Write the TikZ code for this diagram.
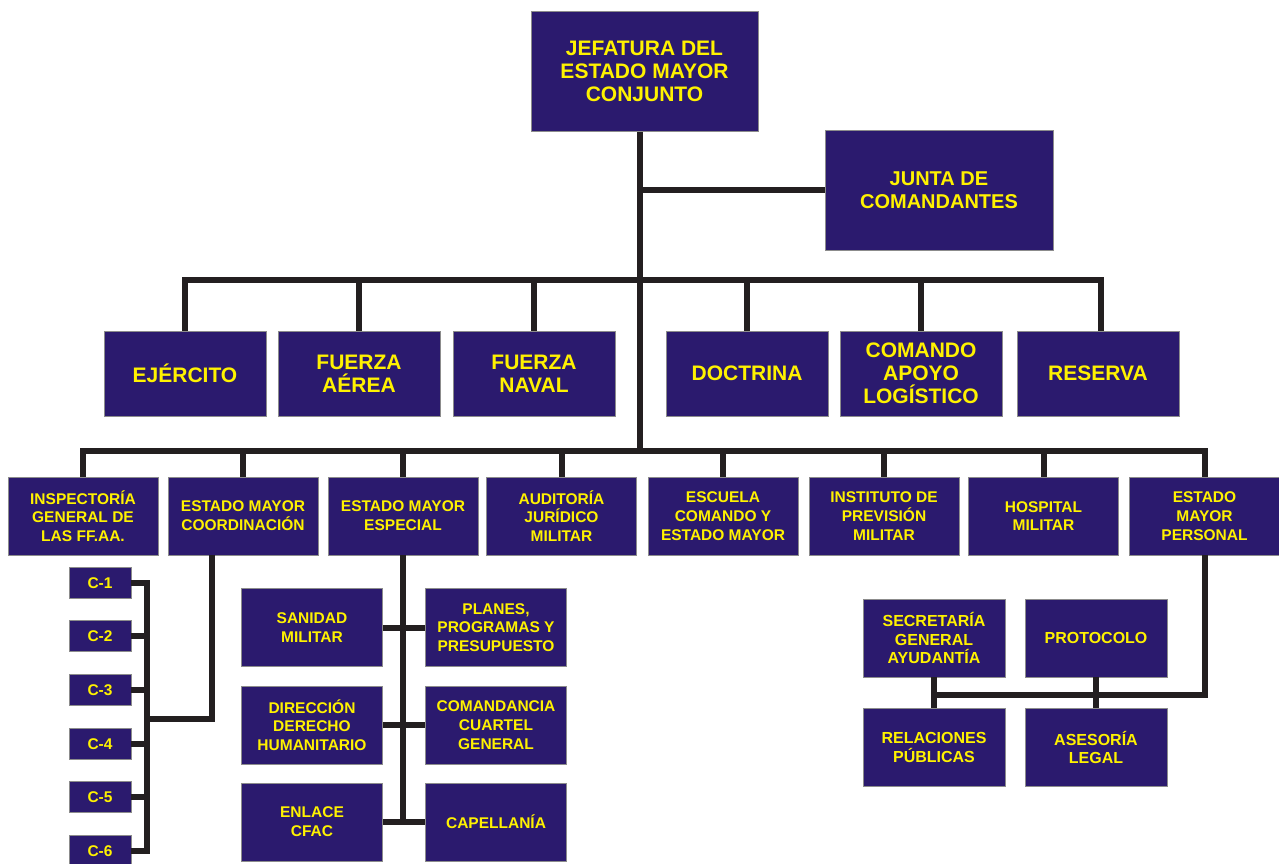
\documentclass[tikz,border=0pt]{standalone}
\usepackage{fontspec}
\setmainfont{Liberation Sans}
\definecolor{boxfill}{HTML}{2B1A6E}
\definecolor{labelyellow}{HTML}{FFF200}
\definecolor{linecol}{HTML}{231F20}
\definecolor{boxedge}{HTML}{8C8C8C}
\tikzset{
  box/.style={draw=boxedge, line width=0.9pt, fill=boxfill, text=labelyellow, align=center, inner sep=0pt},
  sz/.style 2 args={minimum width=#1pt, minimum height=#2pt},
  fbig/.style={font=\fontsize{21}{23}\selectfont\bfseries},
  fjunta/.style={font=\fontsize{20}{23}\selectfont\bfseries},
  frow/.style={font=\fontsize{21}{23}\selectfont\bfseries},
  fsmall/.style={font=\fontsize{15.5}{18.8}\selectfont\bfseries},
  fright/.style={font=\fontsize{16}{18.8}\selectfont\bfseries},
  rowone/.style={box, frow, sz={162}{85}},
  rowtwo/.style={box, fsmall, sz={150}{78}},
  cbox/.style={box, fsmall, sz={62}{31}},
  subbox/.style={box, fsmall, sz={141}{78}},
  rbox/.style={box, fright, sz={142}{78}},
  link/.style={draw=linecol, line width=6pt, line join=miter}
}
\begin{document}
\begin{tikzpicture}[x=1pt, y=-1pt]
\useasboundingbox (0,0) rectangle (1279,863);
\clip (0,0) rectangle (1279,863);
% top
\node[box, fbig, sz={227}{120}] (jefe) at (644.5,71.5) {JEFATURA DEL\\ESTADO MAYOR\\CONJUNTO};
\node[box, fjunta, sz={228}{120}] (junta) at (939,190) {JUNTA DE\\COMANDANTES};
% row 1
\node[rowone] (ejercito) at (185,373.5) {EJÉRCITO};
\node[rowone] (aerea) at (359,373.5) {FUERZA\\AÉREA};
\node[rowone] (naval) at (534,373.5) {FUERZA\\NAVAL};
\node[rowone] (doctrina) at (747,373.5) {DOCTRINA};
\node[rowone] (comando) at (921,373.5) {COMANDO\\APOYO\\LOGÍSTICO};
\node[rowone] (reserva) at (1098,373.5) {RESERVA};
% row 2
\node[rowtwo] (insp) at (83,516) {INSPECTORÍA\\GENERAL DE\\LAS FF.AA.};
\node[rowtwo] (coord) at (243,516) {ESTADO MAYOR\\COORDINACIÓN};
\node[rowtwo] (especial) at (403,516) {ESTADO MAYOR\\ESPECIAL};
\node[rowtwo] (auditoria) at (561.5,516) {AUDITORÍA\\JURÍDICO\\MILITAR};
\node[rowtwo] (escuela) at (723,516) {ESCUELA\\COMANDO Y\\ESTADO MAYOR};
\node[rowtwo] (instituto) at (884,516) {INSTITUTO DE\\PREVISIÓN\\MILITAR};
\node[rowtwo] (hospital) at (1043.5,516) {HOSPITAL\\MILITAR};
\node[rowtwo] (personal) at (1204.5,516) {ESTADO\\MAYOR\\PERSONAL};
% C boxes
\node[cbox] (c1) at (100,583) {C-1};
\node[cbox] (c2) at (100,636) {C-2};
\node[cbox] (c3) at (100,690) {C-3};
\node[cbox] (c4) at (100,744) {C-4};
\node[cbox] (c5) at (100,797) {C-5};
\node[cbox] (c6) at (100,851) {C-6};
% especial subtree
\node[subbox] (sanidad) at (312,627.5) {SANIDAD\\MILITAR};
\node[subbox] (direccion) at (312,725) {DIRECCIÓN\\DERECHO\\HUMANITARIO};
\node[subbox] (enlace) at (312,822) {ENLACE\\CFAC};
\node[subbox] (planes) at (496,627.5) {PLANES,\\PROGRAMAS Y\\PRESUPUESTO};
\node[subbox] (comandancia) at (496,725) {COMANDANCIA\\CUARTEL\\GENERAL};
\node[subbox] (capellania) at (496,822) {CAPELLANÍA};
% personal subtree
\node[rbox] (secretaria) at (934,638) {SECRETARÍA\\GENERAL\\AYUDANTÍA};
\node[rbox] (protocolo) at (1096,638) {PROTOCOLO};
\node[rbox] (relaciones) at (934,747.5) {RELACIONES\\PÚBLICAS};
\node[rbox] (asesoria) at (1096,747.5) {ASESORÍA\\LEGAL};
% coordinates
\coordinate (t1) at (640,280);
\coordinate (t2) at (640,451);
\coordinate (cb) at (147,719);
\coordinate (pj) at (0,695);
% connectors
\draw[link] (jefe.south -| t1) -- (t2);
\draw[link] (t1 |- junta.west) -- (junta.west);
\draw[link] (ejercito.north) |- (t1) -| ([xshift=3pt]reserva.north);
\foreach \n in {aerea,naval,doctrina,comando} \draw[link] (\n.north) -- (\n.north |- t1);
\draw[link] (insp.north) |- (t2) -| (personal.north);
\foreach \n in {coord,especial,auditoria,escuela,instituto,hospital} \draw[link] (\n.north) -- (\n.north |- t2);
\draw[link] ([xshift=-31pt]coord.south) |- (cb);
\draw[link] (c1.east) -| (cb);
\draw[link] (c6.east) -| (cb);
\foreach \n in {c2,c3,c4,c5} \draw[link] (\n.east) -- (\n.east -| cb);
\draw[link] (especial.south) -- (especial.south |- enlace.east);
\draw[link] (sanidad.east) -- (planes.west);
\draw[link] (direccion.east) -- (comandancia.west);
\draw[link] (enlace.east) -- (capellania.west);
\draw[link] (personal.south) |- (pj -| secretaria.south);
\draw[link] (secretaria.south) -- (relaciones.north);
\draw[link] (protocolo.south) -- (asesoria.north);
\end{tikzpicture}
\end{document}
